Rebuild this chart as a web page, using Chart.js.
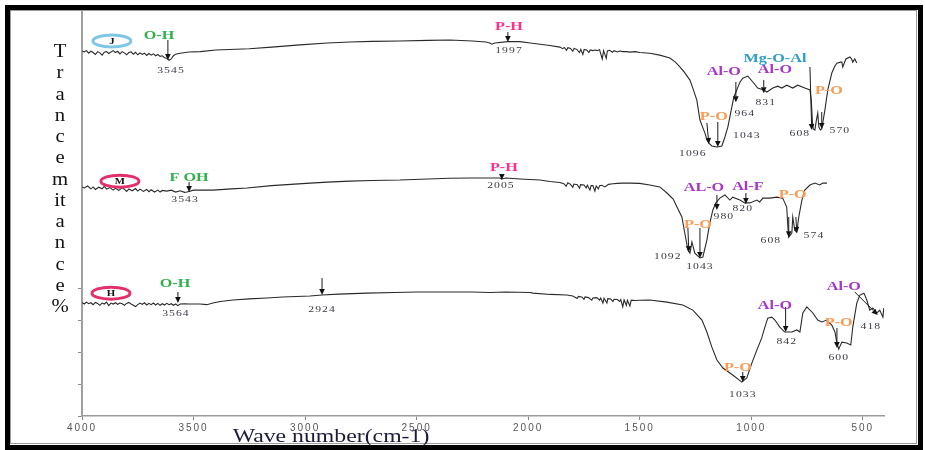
<!DOCTYPE html>
<html><head><meta charset="utf-8">
<script src="https://cdn.jsdelivr.net/npm/chart.js@4"></script>
<style>html,body{margin:0;padding:0;background:#fff;}canvas{display:block;}</style>
</head><body>
<canvas id="c" width="925" height="450"></canvas>
<script>
// ---------- data ----------
const xTicks = [4000, 3500, 3000, 2500, 2000, 1500, 1000, 500];
const yTicks = [0, 10, 20, 30, 40];
const xTitle = 'Wave number(cm-1)';
const yTitleLetters = ['T','r','a','n','c','e','m','it','a','n','c','e','%'];

// [wavenumber, transmittance (offset, arbitrary %)]
const specJ = [[4000,114.1],[3990,113.8],[3980,114.2],[3970,113.4],[3960,114.0],[3950,113.6],[3940,113.0],[3930,113.9],[3920,113.5],[3910,112.8],[3900,113.7],[3890,113.9],[3880,113.3],[3870,113.8],[3860,114.2],[3850,113.6],[3840,114.0],[3830,113.2],[3820,113.9],[3810,113.5],[3800,112.9],[3790,113.6],[3780,113.8],[3770,113.1],[3760,113.7],[3750,112.9],[3740,113.5],[3730,113.0],[3720,113.4],[3710,112.7],[3700,113.3],[3690,112.8],[3680,113.2],[3670,112.6],[3660,113.0],[3650,112.4],[3640,112.6],[3630,112.0],[3620,111.8],[3610,111.2],[3600,111.6],[3590,112.6],[3580,113.1],[3560,113.4],[3520,113.75],[3470,113.9],[3400,114.4],[3250,114.8],[3150,115.3],[3023,116.0],[2900,116.6],[2799,116.9],[2700,117.1],[2575,117.2],[2450,117.4],[2351,117.5],[2250,117.2],[2190,116.9],[2172,116.6],[2163,116.2],[2150,116.6],[2091,117.0],[2037,117.0],[1990,116.6],[1947,116.2],[1903,115.8],[1858,115.3],[1845,114.8],[1838,115.2],[1828,114.3],[1822,115.1],[1810,114.9],[1800,114.0],[1794,114.9],[1782,114.6],[1770,113.6],[1764,114.6],[1755,113.0],[1749,114.6],[1738,114.4],[1728,113.6],[1722,114.4],[1710,114.2],[1700,114.4],[1690,114.2],[1680,114.5],[1668,111.6],[1662,114.2],[1650,111.8],[1645,114.1],[1635,114.3],[1622,113.7],[1615,114.2],[1600,113.8],[1590,114.1],[1575,113.9],[1560,113.9],[1544,113.75],[1520,113.9],[1499,113.6],[1455,113.4],[1410,112.8],[1365,111.9],[1340,110.6],[1320,109.1],[1300,107.5],[1275,105.0],[1262,102.5],[1244,98.75],[1230,92.5],[1218,90.3],[1208,88.5],[1198,86.25],[1190,85.3],[1177,84.4],[1163,84.2],[1150,84.1],[1132,84.4],[1118,87.2],[1105,90.3],[1096,93.4],[1087,96.6],[1078,99.7],[1069,101.2],[1060,102.8],[1050,104.4],[1038,105.6],[1015,106.25],[993,104.4],[971,102.5],[944,101.9],[930,101.25],[903,102.5],[881,103.1],[863,102.5],[841,103.4],[814,102.5],[792,103.4],[760,102.5],[737,101.9],[731,98.75],[726,92.0],[722,89.7],[715,89.4],[708,92.5],[702,94.7],[697,90.3],[690,89.4],[684,89.7],[670,95.6],[657,101.9],[639,107.2],[625,109.4],[616,110.3],[600,110.6],[594,110.6],[590,109.1],[576,111.6],[558,112.2],[550,111.6],[545,110.6],[536,111.6],[527,110.3]];

const specM = [[4000,71.6],[3990,71.3],[3975,71.9],[3960,71.0],[3950,71.6],[3940,70.8],[3925,71.5],[3910,71.0],[3900,71.8],[3890,70.9],[3875,71.4],[3860,70.6],[3850,71.2],[3835,70.5],[3820,71.3],[3810,70.9],[3800,70.2],[3790,71.0],[3775,70.4],[3760,71.1],[3750,70.3],[3740,70.9],[3725,70.2],[3710,70.8],[3700,70.1],[3690,70.7],[3675,70.0],[3660,70.6],[3650,70.0],[3640,70.5],[3620,70.3],[3600,70.6],[3580,70.0],[3560,70.4],[3540,69.9],[3530,70.0],[3520,70.2],[3500,70.6],[3470,70.6],[3413,70.6],[3330,71.0],[3260,71.25],[3150,72.0],[2978,72.8],[2900,73.1],[2799,73.4],[2700,73.6],[2575,73.75],[2450,74.1],[2351,74.3],[2261,74.4],[2127,74.4],[2118,74.1],[2100,74.4],[2037,74.1],[1947,73.75],[1903,73.3],[1858,73.0],[1840,72.6],[1830,71.8],[1822,72.9],[1810,72.4],[1800,71.5],[1795,72.5],[1780,72.3],[1770,71.2],[1765,72.3],[1750,72.2],[1740,71.3],[1735,72.1],[1723,70.6],[1718,72.0],[1710,72.0],[1701,70.3],[1695,71.9],[1685,71.0],[1680,72.0],[1670,72.1],[1656,71.6],[1640,72.4],[1620,72.6],[1600,72.7],[1580,72.8],[1544,72.8],[1500,72.7],[1455,72.2],[1410,71.6],[1378,69.7],[1350,67.8],[1333,65.3],[1311,62.2],[1298,57.2],[1284,51.9],[1275,50.9],[1266,54.4],[1253,50.9],[1230,49.4],[1217,49.7],[1199,55.0],[1186,60.3],[1172,64.4],[1159,66.6],[1141,68.1],[1118,69.1],[1096,67.5],[1083,68.4],[1051,67.5],[1029,66.6],[1006,66.6],[975,67.5],[962,66.9],[948,68.1],[917,68.1],[885,68.4],[859,68.1],[841,65.3],[836,59.1],[832,55.9],[818,57.2],[814,62.2],[805,58.1],[796,57.5],[787,62.2],[773,67.5],[760,70.6],[737,72.2],[715,72.8],[693,72.2],[679,72.8],[661,72.8]];

const specH = [[4000,35.5],[3990,35.0],[3980,35.6],[3970,35.1],[3960,35.4],[3950,34.8],[3940,35.5],[3930,35.2],[3920,34.6],[3910,35.3],[3900,35.0],[3890,35.6],[3880,34.5],[3870,35.3],[3860,35.0],[3850,35.4],[3840,34.9],[3830,35.3],[3820,35.1],[3810,34.6],[3800,35.2],[3790,35.5],[3780,35.0],[3770,34.6],[3760,34.2],[3750,34.8],[3740,35.3],[3730,34.9],[3720,35.4],[3710,34.7],[3700,35.2],[3690,34.8],[3680,35.3],[3670,34.7],[3660,35.2],[3650,34.6],[3640,35.1],[3630,34.7],[3620,35.2],[3610,34.8],[3600,35.1],[3590,34.6],[3580,35.0],[3570,34.5],[3560,35.0],[3540,35.1],[3520,35.0],[3500,35.0],[3471,35.0],[3440,34.8],[3413,35.3],[3380,35.8],[3323,36.25],[3250,36.6],[3171,36.9],[3100,37.2],[2978,37.5],[2924,37.8],[2850,38.1],[2723,38.4],[2600,38.6],[2500,38.75],[2351,38.75],[2250,38.75],[2172,38.6],[2100,38.75],[1992,38.6],[1979,38.4],[1900,38.0],[1827,37.8],[1800,37.5],[1780,36.7],[1775,37.4],[1760,37.2],[1750,36.5],[1745,37.2],[1730,37.0],[1715,36.2],[1710,36.9],[1692,37.0],[1680,36.2],[1675,36.9],[1665,35.3],[1660,36.8],[1647,35.3],[1643,36.7],[1630,36.6],[1620,35.8],[1615,36.5],[1600,36.4],[1590,35.8],[1585,36.4],[1576,34.1],[1570,36.3],[1560,34.6],[1555,36.2],[1544,34.4],[1538,36.2],[1520,36.1],[1500,36.2],[1455,36.25],[1378,35.6],[1307,34.7],[1262,33.1],[1221,30.0],[1199,26.25],[1177,21.6],[1154,17.5],[1127,15.0],[1083,12.8],[1042,10.6],[1020,11.9],[997,16.6],[975,20.6],[953,24.4],[939,27.8],[926,30.6],[908,30.9],[894,30.0],[872,27.8],[850,26.25],[818,26.25],[796,26.9],[782,26.25],[769,32.2],[751,34.1],[724,32.2],[702,30.0],[684,29.4],[661,30.0],[639,28.4],[625,26.25],[616,22.8],[608,20.9],[594,23.1],[572,22.8],[554,22.2],[545,27.8],[527,35.3],[513,37.8],[495,38.4],[482,36.25],[469,33.1],[455,33.75],[437,32.2],[424,33.1],[410,30.9],[406,33.75]];

// sample tags: [name, wavenumber, value]
const sampleTags = [['J',3866,117.2],['M',3830,73.4],['H',3870,38.4]];
// functional group labels: [text, wavenumber, value]
const groupLabels = [
  ['O-H',3655,118.75],['P-H',2086,121.6],['P-O',1168,93.4],['Al-O',1123,107.5],['Al-O',894,108.1],['Mg-O-Al',894,111.6],['P-O',652,101.6],
  ['F OH',3520,74.4],['P-H',2109,77.5],['AL-O',1212,71.25],['Al-F',1015,71.6],['P-O',814,69.1],['P-O',1239,59.7],
  ['O-H',3583,41.25],['P-O',1060,15.0],['Al-O',894,34.4],['P-O',608,29.1],['Al-O',585,40.3]
];
// peak position labels: [text, wavenumber, value]
const peakLabels = [
  ['3545',3601,108.1],['1997',2086,114.1],['1096',1262,81.9],['1043',1020,87.5],['964',1029,94.4],['831',935,98.1],['608',782,88.1],['570',603,89.1],
  ['3543',3538,67.5],['2005',2122,71.9],['1092',1374,49.7],['1043',1230,46.6],['980',1123,62.2],['820',1038,64.7],['608',912,54.7],['574',719,56.25],
  ['3564',3579,31.9],['2924',2924,33.4],['1033',1038,6.6],['842',841,23.1],['600',608,18.1],['418',464,27.8]
];
// arrows: [w1, v1, w2, v2] (tail -> head)
const arrows = [
  [3615,117.5,3615,111.25],[2091,120.0,2091,116.9],[1199,91.6,1190,85.0],[1150,91.9,1150,84.1],[1069,104.4,1069,98.1],[944,105.0,944,100.9],[737,109.1,729,89.4],[684,95.0,684,89.7],
  [3520,73.1,3520,70.0],[2118,75.3,2118,73.75],[1284,58.75,1280,51.25],[1230,58.75,1230,49.4],[1154,69.1,1154,64.4],[1024,69.7,1024,66.25],[832,62.2,832,55.9],[800,62.2,796,57.2],
  [3570,38.75,3570,35.3],[2924,43.1,2924,37.8],[1038,13.75,1038,10.6],[846,34.1,846,26.25],[616,27.5,616,21.25],[536,38.75,433,31.6]
];

// ---------- styles ----------
const groupColors = {'O-H':'#2fb24c','F OH':'#2fb24c','P-H':'#ff2f8e','P-O':'#ff9a52','Al-O':'#a836c8','AL-O':'#a836c8','Al-F':'#a836c8','Mg-O-Al':'#2e9ec6'};
const tagColors = {'J':'#7fc7e4','M':'#e2306c','H':'#e2306c'};

function txt(ctx, s, x, y, font, color, sx, ls, base){
  ctx.save();
  ctx.font = font; ctx.fillStyle = color;
  ctx.textAlign = 'center'; ctx.textBaseline = base || 'middle';
  ctx.letterSpacing = (ls || 0) + 'px';
  ctx.translate(x, y); ctx.scale(sx, 1);
  ctx.fillText(s, 0, 0);
  ctx.restore();
}
function arrow(ctx, x1, y1, x2, y2){
  const a = Math.atan2(y2 - y1, x2 - x1), L = 6, W = 2.8;
  ctx.save();
  ctx.strokeStyle = '#1a1a1a'; ctx.fillStyle = '#111'; ctx.lineWidth = 1;
  ctx.beginPath(); ctx.moveTo(x1, y1); ctx.lineTo(x2 - L*Math.cos(a), y2 - L*Math.sin(a)); ctx.stroke();
  ctx.beginPath();
  ctx.moveTo(x2, y2);
  ctx.lineTo(x2 - L*Math.cos(a) + W*Math.sin(a), y2 - L*Math.sin(a) - W*Math.cos(a));
  ctx.lineTo(x2 - L*Math.cos(a) - W*Math.sin(a), y2 - L*Math.sin(a) + W*Math.cos(a));
  ctx.closePath(); ctx.fill();
  ctx.restore();
}

const decor = {
  id: 'decor',
  beforeDraw(chart){ chart.ctx.letterSpacing = '2px'; },
  beforeDatasetsDraw(chart){ chart.ctx.letterSpacing = '0px'; },
  afterDraw(chart){
    const ctx = chart.ctx, xs = chart.scales.x, ys = chart.scales.y;
    const X = w => xs.getPixelForValue(w), Y = v => ys.getPixelForValue(v);
    ctx.save();
    // frames
    ctx.strokeStyle = '#9a9a9a'; ctx.lineWidth = 1;
    ctx.strokeRect(10.5, 10.5, 906, 433);
    ctx.strokeStyle = '#000'; ctx.lineWidth = 5;
    ctx.strokeRect(7.5, 7.5, 913, 440);
    ctx.restore();
    // vertical axis label (stacked letters)
    yTitleLetters.forEach((l, i) => txt(ctx, l, 60, 57 + i*21.25, "18px 'Liberation Serif'", '#111', 1.15, 0, 'alphabetic'));
    // x title
    txt(ctx, xTitle, 331, 442, "18px 'Liberation Serif'", '#1c1c3a', 1.32, 0, 'alphabetic');
    // sample tags
    sampleTags.forEach(([n, w, v]) => {
      const x = X(w), y = Y(v);
      ctx.save();
      ctx.strokeStyle = tagColors[n]; ctx.lineWidth = 3;
      ctx.beginPath(); ctx.ellipse(x, y, 19, 6, 0, 0, Math.PI*2); ctx.stroke();
      ctx.restore();
      txt(ctx, n, x, y + 0.5, "bold 9px 'Liberation Serif'", '#111', 1.2, 0);
    });
    // arrows
    arrows.forEach(([w1, v1, w2, v2]) => arrow(ctx, X(w1), Y(v1), X(w2), Y(v2)));
    // group labels
    groupLabels.forEach(([t, w, v]) => txt(ctx, t, X(w), Y(v), "bold 12px 'Liberation Serif'", groupColors[t], 1.35, 0));
    // peak labels
    peakLabels.forEach(([t, w, v]) => txt(ctx, t, X(w), Y(v), "9px 'Liberation Serif'", '#3a3a46', 1.3, 0.8));
  }
};

const toXY = a => a.map(p => ({x: p[0], y: p[1]}));
const lineDs = (label, arr) => ({label, data: toXY(arr), showLine: true, borderColor: '#2a2a2a', borderWidth: 1.1, pointRadius: 0, tension: 0, fill: false});

new Chart(document.getElementById('c'), {
  type: 'scatter',
  data: {datasets: [lineDs('J', specJ), lineDs('M', specM), lineDs('H', specH)]},
  options: {
    responsive: false, animation: false, devicePixelRatio: 1,
    layout: {padding: {left: 0, right: 41, top: 10, bottom: 0}},
    plugins: {legend: {display: false}, tooltip: {enabled: false}},
    scales: {
      x: {
        type: 'linear', reverse: true, min: 405, max: 4000,
        afterBuildTicks: s => { s.ticks = xTicks.map(v => ({value: v})); },
        afterFit: s => { s.height = 34; },
        ticks: {color: '#555', font: {family: 'Liberation Sans', size: 10}, padding: 2, maxRotation: 0, autoSkip: false, callback: v => String(v)},
        grid: {drawOnChartArea: false, drawTicks: true, tickLength: 4, color: '#8a8a8a', lineWidth: 1},
        border: {color: '#9a9a9a', width: 1.5}
      },
      y: {
        type: 'linear', min: 0, max: 126.9,
        afterBuildTicks: s => { s.ticks = yTicks.map(v => ({value: v})); },
        afterFit: s => { s.width = 82; },
        ticks: {display: false},
        grid: {drawOnChartArea: false, drawTicks: true, tickLength: 4, color: '#8a8a8a'},
        border: {color: '#a0a0a0', width: 2}
      }
    }
  },
  plugins: [decor]
});
</script>
</body></html>
